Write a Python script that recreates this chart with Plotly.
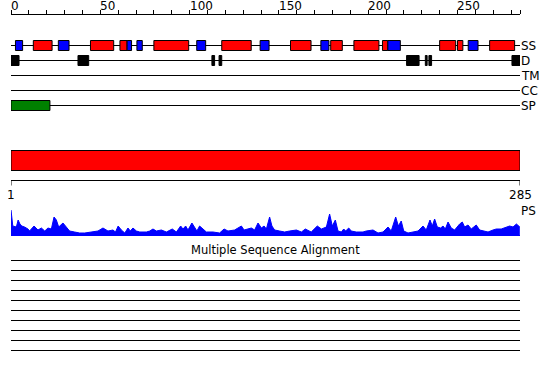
import plotly.graph_objects as go

# ---------------- data ----------------
SEQ_LEN = 285
axis_tick_vals = list(range(0, 281, 10)) + [SEQ_LEN]
axis_label_vals = [0, 50, 100, 150, 200, 250]

# secondary structure (SS): helices (red) and strands (blue), residue spans
helix_start = [12.5, 44.5, 61, 80, 118, 156.5, 179, 192, 208, 240, 250, 268]
helix_end = [23, 57.5, 65, 99.5, 134.5, 168, 185.5, 206, 211, 249, 253, 282]
strand_start = [2.5, 26.5, 65, 70.5, 104, 139.5, 173.5, 211, 256]
strand_end = [6.5, 32.5, 67.5, 73.5, 109, 144.5, 178, 218, 261.5]

# disorder (D)
dis_start = [0, 37.5, 112.5, 116.5, 221.5, 232, 234, 280.5]
dis_end = [4.5, 43.5, 114, 118, 228.5, 233, 235.5, 285]

# transmembrane (TM), coiled coil (CC): none
tm_start, tm_end = [], []
cc_start, cc_end = [], []

# signal peptide (SP)
sp_start = [0]
sp_end = [21.8]

# domain bar
domain_start = [0]
domain_end = [SEQ_LEN]

# PS profile
ps_pos = [0, 1, 3, 4, 5, 6, 7.6, 9.5, 10.4, 12.9, 15.1, 17, 18.9, 20.7, 22.6, 24.1, 25.4,
          26.7, 29.1, 31, 32.8, 35.6, 38.4, 41.3, 45, 48.7, 51.5, 54.3, 57.1, 58.5, 60,
          61.8, 63.7, 65.5, 66.8, 68.3, 70.2, 72.1, 75.8, 77.7, 79.5, 81.4, 84.2, 87, 90.3,
          92.6, 95, 96.3, 97.8, 99.1, 101.3, 102.8, 104.1, 105.6, 107.5, 109.4, 113.1,
          116.8, 119.3, 121.5, 125.2, 127.5, 129, 130.5, 132.7, 134.6, 136.4, 138.3, 140.2,
          141.7, 143, 144.8, 146.1, 147.6, 150.4, 153.2, 156, 159.8, 162.6, 164.8, 168.1,
          171.5, 173.8, 176.6, 178.4, 179.9, 181.6, 183.1, 185, 186.3, 187.4, 189.1, 190.5,
          193.3, 197.1, 198.9, 202.7, 205.5, 208.3, 211.1, 212.9, 215.4, 216.9, 218.5,
          219.9, 222.3, 225.1, 227.9, 230.7, 232.5, 234.6, 235.9, 237.2, 238.7, 240.6,
          241.9, 243.2, 244.7, 246.5, 248.4, 251.2, 252.7, 254, 255.9, 257.7, 260.5, 262.4,
          265.2, 267.1, 269.9, 271.7, 274.5, 277.3, 279.2, 281.1, 283, 284.9]
ps_val = [26, 10, 9, 16, 12, 10, 9, 7, 5, 10, 6, 8, 5, 8, 7, 19, 16,
          9, 13, 9, 5, 4, 3, 3, 4, 5, 8, 5, 6, 4, 10,
          6, 3, 8, 5, 8, 5, 4, 4, 5, 7, 5, 6, 4, 7,
          4, 10, 7, 10, 6, 13, 8, 5, 10, 7, 4, 4,
          3, 7, 5, 6, 8, 10, 6, 7, 8, 6, 13, 8,
          10, 7, 19, 10, 6, 5, 4, 5, 6, 4, 7, 4,
          10, 7, 9, 22, 10, 16, 5, 4, 7, 5, 8, 5,
          4, 4, 5, 6, 3, 4, 9, 5, 19, 10, 15,
          5, 3, 4, 5, 10, 6, 16, 10, 17, 9, 8,
          10, 7, 14, 8, 6, 12, 14, 9, 11, 7, 11, 6,
          5, 4, 6, 7, 7, 9, 10, 9, 12, 9]

track_names = ["SS", "D", "TM", "CC", "SP"]
msa_rows = ["", "", "", "", "", "", "", "", "", ""]
msa_title = "Multiple Sequence Alignment"

# ---------------- layout constants (pixel rows) ----------------
W, H = 550, 380
ML, MR, MT, MB = 11, 30, 15, 0
PLOT_H = H - MT - MB
PLOT_W = W - ML - MR
track_y = [45.5, 60.5, 75.5, 90.5, 105.5]
BOX_HALF = 5
BAR_Y0, BAR_Y1 = 150.5, 170.5
RULER_Y = 180.5
RULER_TICK = 5
NUM_Y = 195
PS_LABEL_Y = 211
PS_BASE_PIX, PS_TOP_PIX = 236, 208
PS_MAX = 28
MSA_TITLE_Y = 250
MSA_TITLE_X_PIX = 275
MSA_Y0, MSA_DY = 260.5, 10
AXIS_LABEL_PIX = 6


def pix_to_paper(p):
    return (H - MB - p) / PLOT_H


FONT = dict(family="DejaVu Sans", size=12, color="black")
TITLE_FONT = dict(family="DejaVu Sans", size=11.5, color="black")
RED, BLUE, GREEN, BLACK = "#FF0000", "#0000FF", "#008000", "#000000"

fig = go.Figure()

# track baselines
for y in track_y:
    fig.add_trace(go.Scatter(x=[0, SEQ_LEN], y=[y, y], mode="lines",
                             line=dict(color=BLACK, width=1), hoverinfo="skip"))

shapes = []


def boxes(starts, ends, yc, color):
    for s, e in zip(starts, ends):
        shapes.append(dict(type="rect", xref="x", yref="y", x0=s, x1=e,
                           y0=yc - BOX_HALF, y1=yc + BOX_HALF,
                           fillcolor=color, line=dict(color=BLACK, width=1)))


boxes(helix_start, helix_end, track_y[0], RED)
boxes(strand_start, strand_end, track_y[0], BLUE)
boxes(dis_start, dis_end, track_y[1], BLACK)
boxes(tm_start, tm_end, track_y[2], BLACK)
boxes(cc_start, cc_end, track_y[3], BLACK)
boxes(sp_start, sp_end, track_y[4], GREEN)

# domain bar
for s, e in zip(domain_start, domain_end):
    shapes.append(dict(type="rect", xref="x", yref="y", x0=s, x1=e,
                       y0=BAR_Y0, y1=BAR_Y1, fillcolor=RED,
                       line=dict(color=BLACK, width=1)))

# ruler
fig.add_trace(go.Scatter(x=[0, 0, SEQ_LEN, SEQ_LEN],
                         y=[RULER_Y + RULER_TICK, RULER_Y, RULER_Y, RULER_Y + RULER_TICK],
                         mode="lines", line=dict(color=BLACK, width=1), hoverinfo="skip"))

# PS profile
fig.add_trace(go.Scatter(x=ps_pos, y=ps_val, yaxis="y2", mode="lines",
                         fill="tozeroy", fillcolor=BLUE,
                         line=dict(color=BLUE, width=1), hoverinfo="skip"))
fig.add_trace(go.Scatter(x=[0, SEQ_LEN], y=[0, 0], yaxis="y2", mode="lines",
                         line=dict(color=BLUE, width=2), hoverinfo="skip"))

# MSA rows
for i, _ in enumerate(msa_rows):
    y = MSA_Y0 + i * MSA_DY
    fig.add_trace(go.Scatter(x=[0, SEQ_LEN], y=[y, y], mode="lines",
                             line=dict(color=BLACK, width=1), hoverinfo="skip"))

annotations = []
for v in axis_label_vals:
    annotations.append(dict(x=v, y=pix_to_paper(AXIS_LABEL_PIX), xref="x", yref="paper",
                            text=str(v), showarrow=False, xanchor="left",
                            yanchor="middle", font=FONT, xshift=-2))
for name, y in zip(track_names, track_y):
    annotations.append(dict(x=SEQ_LEN, y=y, xref="x", yref="y", text=name,
                            showarrow=False, xanchor="left", yanchor="middle",
                            font=FONT, xshift=-1))
annotations.append(dict(x=0, y=NUM_Y, xref="x", yref="y", text="1", showarrow=False,
                        xanchor="center", yanchor="middle", font=FONT))
annotations.append(dict(x=SEQ_LEN, y=NUM_Y, xref="x", yref="y", text=str(SEQ_LEN),
                        showarrow=False, xanchor="center", yanchor="middle", font=FONT))
annotations.append(dict(x=SEQ_LEN, y=PS_LABEL_Y, xref="x", yref="y", text="PS",
                        showarrow=False, xanchor="left", yanchor="middle", font=FONT,
                        xshift=-1))
annotations.append(dict(x=(MSA_TITLE_X_PIX - ML) / PLOT_W, y=MSA_TITLE_Y, xref="paper",
                        yref="y", text=msa_title, showarrow=False, xanchor="center",
                        yanchor="middle", font=TITLE_FONT))

fig.update_layout(
    width=W, height=H,
    margin=dict(l=ML, r=MR, t=MT, b=MB, pad=0),
    paper_bgcolor="white", plot_bgcolor="white",
    showlegend=False,
    shapes=shapes,
    annotations=annotations,
    xaxis=dict(range=[0, SEQ_LEN], side="top", showline=True, linecolor=BLACK,
               linewidth=1, ticks="outside", ticklen=4, tickwidth=1, tickcolor=BLACK,
               tickvals=axis_tick_vals, showticklabels=False, showgrid=False,
               zeroline=False, fixedrange=True, anchor="y"),
    yaxis=dict(range=[H - MB, MT], visible=False, fixedrange=True),
    yaxis2=dict(domain=[pix_to_paper(PS_BASE_PIX), pix_to_paper(PS_TOP_PIX)],
                range=[0, PS_MAX], visible=False, fixedrange=True, anchor="x"),
)

fig.write_html("out.html", config={"displayModeBar": False})
